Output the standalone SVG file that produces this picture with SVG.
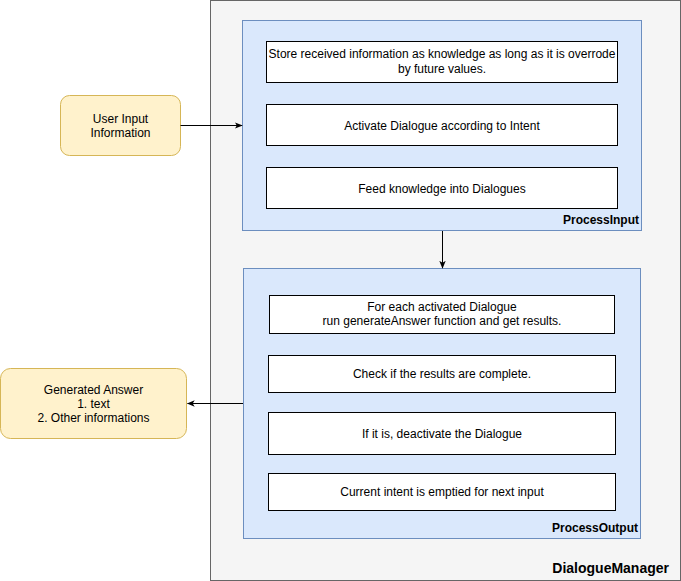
<svg xmlns="http://www.w3.org/2000/svg" width="681" height="581" viewBox="0 0 681 581">
<defs>
<style>
.t{font-family:"Liberation Sans",Arial,Helvetica,sans-serif;font-size:12px;fill:#000;text-anchor:middle}
.lb{font-family:"Liberation Sans",Arial,Helvetica,sans-serif;font-size:12px;font-weight:bold;fill:#000;text-anchor:end}
.box{fill:#ffffff;stroke:#000000;stroke-width:1}
.blue{fill:#dae8fc;stroke:#6c8ebf;stroke-width:1}
.yel{fill:#fff2cc;stroke:#d6b656;stroke-width:1}
.ln{fill:none;stroke:#000;stroke-width:1}
</style>
<marker id="arr" viewBox="0 0 10 10" refX="9" refY="5" markerWidth="8" markerHeight="8" markerUnits="userSpaceOnUse" orient="auto">
<path d="M0,1 L10,5 L0,9 L2.5,5 Z" fill="#000"/>
</marker>
</defs>
<rect width="681" height="581" fill="#ffffff"/>
<g id="DialogueManager">
<rect x="210.5" y="0.5" width="470" height="580" fill="#f5f5f5" stroke="#666666"/>
<text x="669" y="573" class="lb" style="font-size:14px">DialogueManager</text>
</g>
<g id="ProcessInput">
<rect x="242.5" y="20.5" width="399" height="210" class="blue"/>
<text x="639" y="224" class="lb">ProcessInput</text>
</g>
<g id="store">
<rect x="266.5" y="41.5" width="351" height="41" class="box"/>
<text x="442" y="58" class="t">Store received information as knowledge as long as it is overrode</text>
<text x="442" y="73" class="t">by future values.</text>
</g>
<g id="activate">
<rect x="266.5" y="104.5" width="351" height="41" class="box"/>
<text x="442" y="129.5" class="t">Activate Dialogue according to Intent</text>
</g>
<g id="feed">
<rect x="266.5" y="167.5" width="351" height="41" class="box"/>
<text x="442" y="192.5" class="t">Feed knowledge into Dialogues</text>
</g>
<g id="ProcessOutput">
<rect x="243.5" y="268.5" width="397" height="270" class="blue"/>
<text x="638" y="532" class="lb">ProcessOutput</text>
</g>
<g id="foreach">
<rect x="269.5" y="295.5" width="345" height="38" class="box"/>
<text x="442" y="311" class="t">For each activated Dialogue</text>
<text x="442" y="325" class="t">run generateAnswer function and get results.</text>
</g>
<g id="check">
<rect x="268.5" y="355.5" width="347" height="37" class="box"/>
<text x="442" y="378" class="t">Check if the results are complete.</text>
</g>
<g id="deactivate">
<rect x="268.5" y="412.5" width="347" height="42" class="box"/>
<text x="442" y="438" class="t">If it is, deactivate the Dialogue</text>
</g>
<g id="current">
<rect x="268.5" y="473.5" width="347" height="37" class="box"/>
<text x="442" y="496" class="t">Current intent is emptied for next input</text>
</g>
<g id="UserInput">
<rect x="60.5" y="95.5" width="120" height="60" rx="9" ry="9" class="yel"/>
<text x="120.5" y="123" class="t">User Input</text>
<text x="120.5" y="137" class="t">Information</text>
</g>
<g id="GeneratedAnswer">
<rect x="0.5" y="368.5" width="186" height="70" rx="10" ry="10" class="yel"/>
<text x="93.5" y="394" class="t">Generated Answer</text>
<text x="93.5" y="408" class="t">1. text</text>
<text x="93.5" y="422" class="t">2. Other informations</text>
</g>
<g id="connectors">
<line x1="180.5" y1="125.5" x2="242" y2="125.5" class="ln" marker-end="url(#arr)"/>
<line x1="442.5" y1="231" x2="442.5" y2="268" class="ln" marker-end="url(#arr)"/>
<line x1="243" y1="403.5" x2="187.5" y2="403.5" class="ln" marker-end="url(#arr)"/>
</g>
</svg>
